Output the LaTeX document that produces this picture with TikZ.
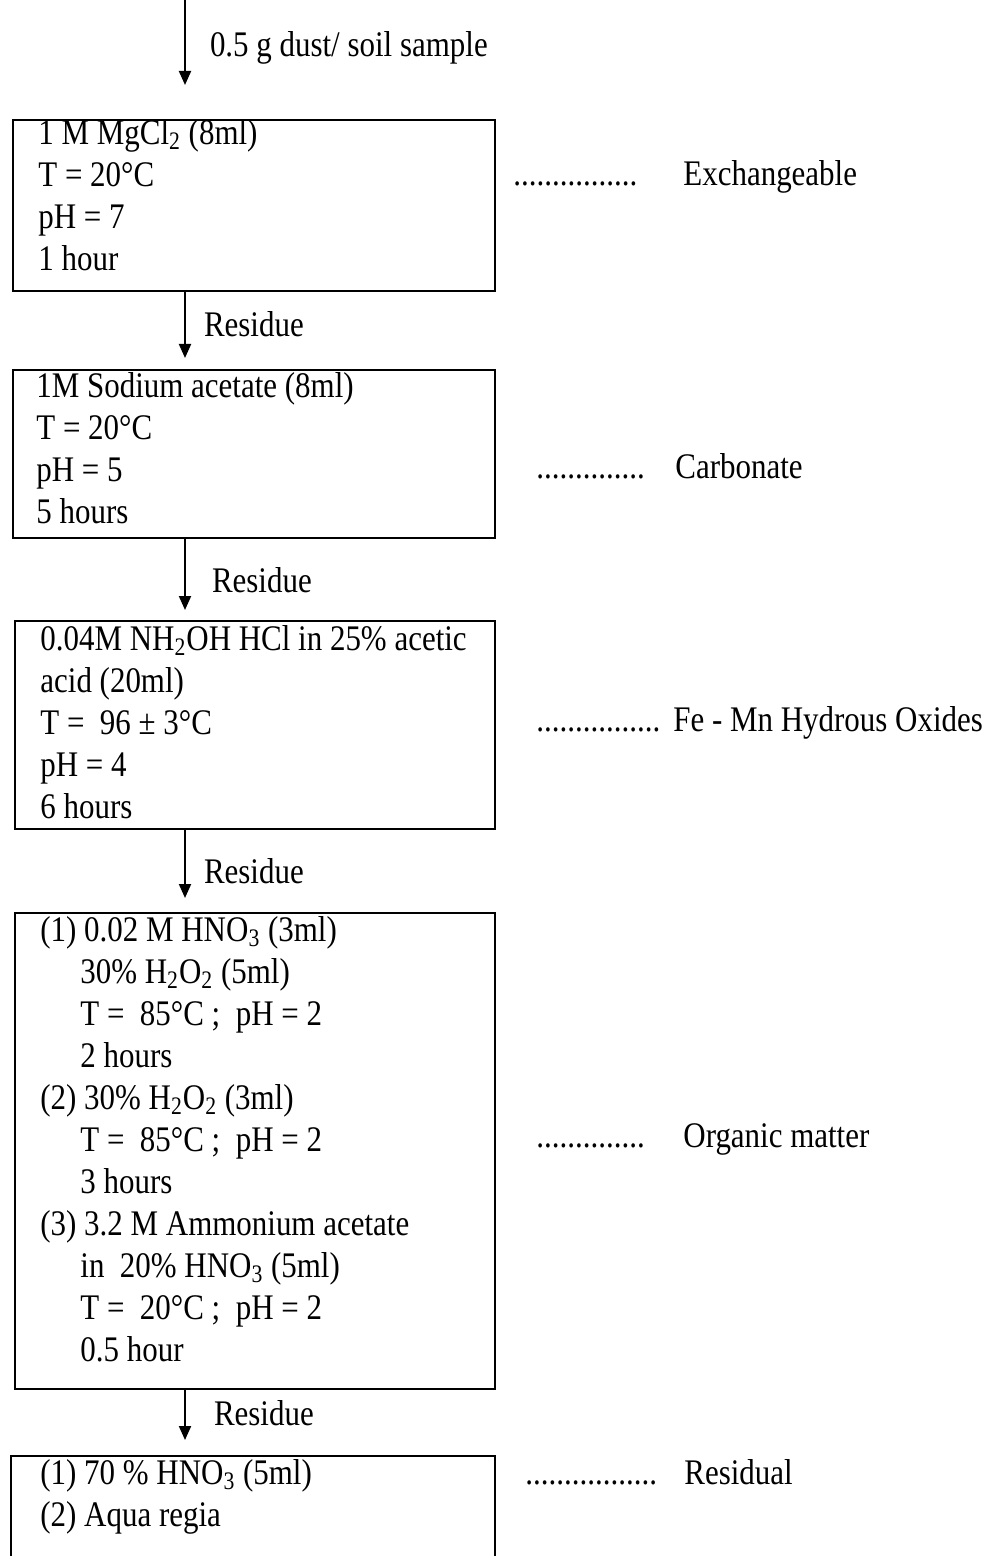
\documentclass[tikz,border=0pt]{standalone}
\usepackage{fontspec}
\setmainfont{Liberation Serif}[FakeStretch=0.86]
\usetikzlibrary{arrows.meta,positioning}

\newcommand{\subline}{\hspace*{20pt}}

\tikzset{
  stage/.style={draw, line width=1.2pt, anchor=north west, inner sep=0pt},
  stagetext/.style={anchor=north west, align=left, inner sep=0pt, font=\fontsize{18}{21}\selectfont},
  flow/.style={line width=1pt, -{Triangle[length=7pt,width=6pt]}},
  lbl/.style={inner sep=0pt, font=\fontsize{18}{21}\selectfont},
  frac/.style={anchor=base west, inner sep=0pt, font=\fontsize{18}{21}\selectfont}
}

\begin{document}
\begin{tikzpicture}[x=0.5pt,y=-0.5pt]

\useasboundingbox (0,0) rectangle (984,1556);

\coordinate (top) at (185,0);

% extraction steps
\node[stage, minimum width=241pt, minimum height=85.5pt] (ex1) at (12,119) {};
\node[stage, minimum width=241pt, minimum height=84pt] (ex2) at (12,369) {};
\node[stage, minimum width=240pt, minimum height=104pt] (ex3) at (14,620) {};
\node[stage, minimum width=240pt, minimum height=238pt] (ex4) at (14,912) {};
\node[stage, minimum width=242pt, minimum height=60pt] (ex5) at (10,1455) {};

\node[stagetext, below right=0pt and 13pt of ex1.north west] (t1)
  {1 M MgCl\textsubscript{2} (8ml)\\ T = 20°C\\ pH = 7\\ 1 hour};
\node[stagetext, below right=1.5pt and 12pt of ex2.north west] (t2)
  {1M Sodium acetate (8ml)\\ T = 20°C\\ pH = 5\\ 5 hours};
\node[stagetext, below right=2.5pt and 13pt of ex3.north west] (t3)
  {0.04M NH\textsubscript{2}OH HCl in 25\% acetic\\ acid (20ml)\\ T = \ 96 ± 3°C\\ pH = 4\\ 6 hours};
\node[stagetext, below right=2pt and 13pt of ex4.north west] (t4)
  {(1) 0.02 M HNO\textsubscript{3} (3ml)\\
   \subline 30\% H\textsubscript{2}O\textsubscript{2} (5ml)\\
   \subline T = \ 85°C ; \ pH = 2\\
   \subline 2 hours\\
   (2) 30\% H\textsubscript{2}O\textsubscript{2} (3ml)\\
   \subline T = \ 85°C ; \ pH = 2\\
   \subline 3 hours\\
   (3) 3.2 M Ammonium acetate\\
   \subline in \ 20\% HNO\textsubscript{3} (5ml)\\
   \subline T = \ 20°C ; \ pH = 2\\
   \subline 0.5 hour};
\node[stagetext, below right=2pt and 15pt of ex5.north west] (t5)
  {(1) 70 \% HNO\textsubscript{3} (5ml)\\ (2) Aqua regia};

% flow
\draw[flow, shorten >=17pt] (top) -- (ex1.north -| top)
  node[lbl, pos=0.4, right=12pt] (n0) {0.5 g dust/ soil sample};
\draw[flow, shorten >=5.5pt] (ex1.south -| top) -- (ex2.north -| top)
  node[lbl, pos=0.42, right=9pt] (r1) {Residue};
\draw[flow, shorten >=5pt] (ex2.south -| top) -- (ex3.north -| top)
  node[lbl, midway, right=13pt] (r2) {Residue};
\draw[flow, shorten >=7pt] (ex3.south -| top) -- (ex4.north -| top)
  node[lbl, midway, right=9pt] (r3) {Residue};
\draw[flow, shorten >=7.5pt] (ex4.south -| top) -- (ex5.north -| top)
  node[lbl, pos=0.35, right=14pt] (r4) {Residue};

% fractions
\node[frac] (d1) at (513,186) {................};
\node[frac] (f1) at (683,186) {Exchangeable};
\node[frac] (d2) at (536,478) {..............};
\node[frac] (f2) at (675,478) {Carbonate};
\node[frac] (d3) at (536,731) {................};
\node[frac] (f3) at (673,731) {Fe - Mn Hydrous Oxides};
\node[frac] (d4) at (536,1147) {..............};
\node[frac] (f4) at (683,1147) {Organic matter};
\node[frac] (d5) at (525,1484) {.................};
\node[frac] (f5) at (684,1484) {Residual};

\end{tikzpicture}
\end{document}
